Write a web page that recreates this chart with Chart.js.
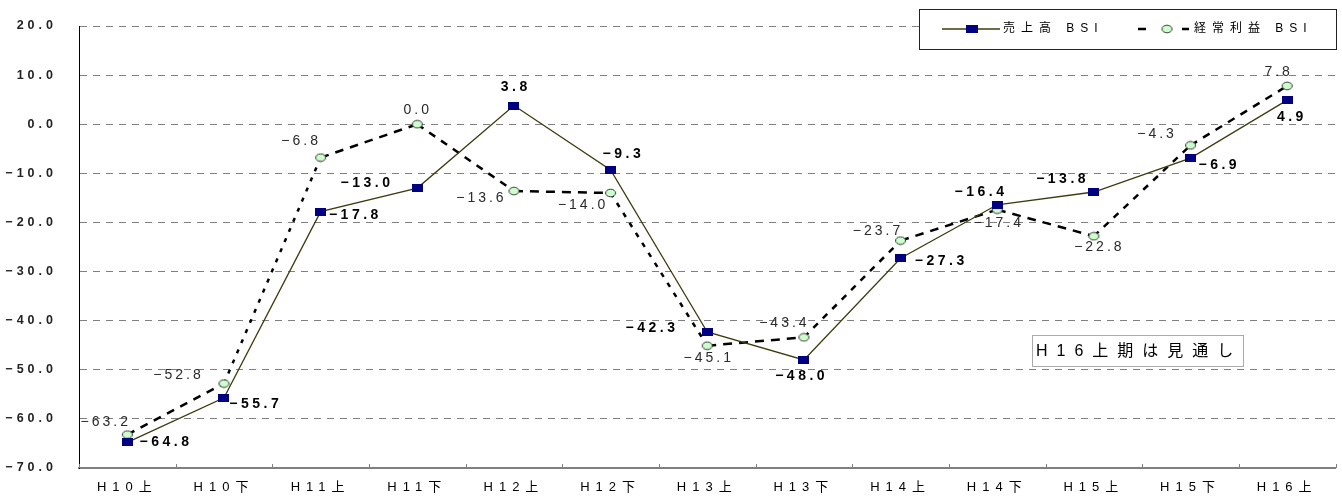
<!DOCTYPE html>
<html lang="ja">
<head>
<meta charset="utf-8">
<title>売上高・経常利益 BSI</title>
<script src="https://cdn.jsdelivr.net/npm/chart.js@4/dist/chart.umd.min.js"></script>
<style>
  html, body { margin: 0; padding: 0; background: #fff; }
  #wrap { position: relative; width: 1342px; height: 497px; }
</style>
</head>
<body>
<div id="wrap"><canvas id="bsi"></canvas></div>
<script>
// ---- data ----
const periods = ['H10上', 'H10下', 'H11上', 'H11下', 'H12上', 'H12下', 'H13上',
                 'H13下', 'H14上', 'H14下', 'H15上', 'H15下', 'H16上'];
const salesBSI  = [-64.8, -55.7, -17.8, -13.0, 3.8, -9.3, -42.3, -48.0, -27.3, -16.4, -13.8, -6.9, 4.9];
const profitBSI = [-63.2, -52.8, -6.8, 0.0, -13.6, -14.0, -45.1, -43.4, -23.7, -17.4, -22.8, -4.3, 7.8];
const yTicks = [20, 10, 0, -10, -20, -30, -40, -50, -60, -70];
const seriesNames = ['売上高 BSI', '経常利益 BSI'];
const noteText = 'H16上期は見通し';

// where each value label sits, relative to its point (label centre, px)
const salesLabelOffset  = [[37,0],[30,6],[33,4],[-52,-5],[0,-18],[11,-16],[-57,-4],[-4,16],[39,3],[-18,-13],[-33,-13],[27,7],[3,17]];
const profitLabelOffset = [[-23,-12],[-47,-8],[-21,-16],[-1,-14],[-34,7],[-29,12],[0,12],[-21,-14],[-24,-9],[0,13],[4,11],[-35,-11],[-10,-14]];

// ---- styling ----
const FONT = "'Liberation Sans', 'Noto Sans CJK JP', sans-serif";
const SALES_LINE = '#3c3c10';
const SALES_MARK = '#000080';
const PROFIT_FILL = '#ccffcc';

const fmt = v => (v < 0 ? '\u2212' : '') + Math.abs(v).toFixed(1);

function makeMarker(w, h, paint) {
  const c = document.createElement('canvas');
  c.width = w; c.height = h;
  paint(c.getContext('2d'), w, h);
  return c;
}
const squareMark = makeMarker(11, 8, (g, w, h) => { g.fillStyle = SALES_MARK; g.fillRect(0, 0, w, h); });
const ovalMark = makeMarker(13, 10, (g, w, h) => {
  g.beginPath();
  g.ellipse(w / 2, h / 2, 5, 3.8, 0, 0, Math.PI * 2);
  g.fillStyle = PROFIT_FILL; g.fill();
  g.lineWidth = 1; g.strokeStyle = '#333'; g.stroke();
});

// dashes look shorter on steep segments
function segDash(ctx) {
  const dx = Math.abs(ctx.p1.x - ctx.p0.x), dy = Math.abs(ctx.p1.y - ctx.p0.y);
  const len = Math.hypot(dx, dy) || 1;
  return [Math.max(4, 9 * dx / len), 7];
}

function spaced(ctx, text, x, y, ls, align) {
  ctx.letterSpacing = ls + 'px';
  const w = ctx.measureText(text).width - ls;
  let sx = x;
  if (align === 'center') sx = x - w / 2;
  else if (align === 'right') sx = x - w;
  ctx.textAlign = 'left';
  ctx.fillText(text, sx, y);
  ctx.letterSpacing = '0px';
}

// letter-spaced axis labels
const axisSpacing = {
  id: 'axisSpacing',
  beforeDraw(chart) {
    [['x', 6], ['y', 4]].forEach(([id, ls]) => {
      const s = chart.scales[id];
      if (s && !s.__spaced) {
        const orig = s.drawLabels;
        s.drawLabels = function (area) {
          const c = this.ctx;
          c.save();
          c.letterSpacing = ls + 'px';
          orig.call(this, area);
          c.restore();
        };
        s.__spaced = true;
      }
    });
  }
};

const valueLabels = {
  id: 'valueLabels',
  afterDatasetsDraw(chart) {
    const ctx = chart.ctx;
    ctx.save();
    ctx.textBaseline = 'middle';
    const m0 = chart.getDatasetMeta(0), m1 = chart.getDatasetMeta(1);
    ctx.font = 'bold 14px ' + FONT;
    ctx.fillStyle = '#000';
    salesBSI.forEach((v, i) => {
      const p = m0.data[i], o = salesLabelOffset[i];
      spaced(ctx, fmt(v), p.x + o[0], p.y + o[1], 3.5, 'center');
    });
    ctx.font = '14px ' + FONT;
    ctx.fillStyle = '#2a2a2a';
    profitBSI.forEach((v, i) => {
      const p = m1.data[i], o = profitLabelOffset[i];
      spaced(ctx, fmt(v), p.x + o[0], p.y + o[1], 3, 'center');
    });
    ctx.restore();
  }
};

const decorations = {
  id: 'decorations',
  afterDraw(chart) {
    const ctx = chart.ctx, area = chart.chartArea, xs = chart.scales.x;
    ctx.save();

    // small inward tick marks on the category axis
    const step = xs.getPixelForValue(1) - xs.getPixelForValue(0);
    const x0 = xs.getPixelForValue(0) - step / 2;
    ctx.strokeStyle = '#808080';
    ctx.lineWidth = 1;
    for (let i = 0; i <= periods.length; i++) {
      const x = Math.round(x0 + i * step) + 0.5;
      ctx.beginPath();
      ctx.moveTo(x, area.bottom);
      ctx.lineTo(x, area.bottom - 4);
      ctx.stroke();
    }

    // legend box
    const lx = 919, ly = 9, lw = 417, lh = 40, cy = ly + 20;
    ctx.fillStyle = '#fff';
    ctx.fillRect(lx, ly, lw, lh);
    ctx.strokeStyle = '#222';
    ctx.lineWidth = 1;
    ctx.strokeRect(lx + 0.5, ly + 0.5, lw, lh);

    ctx.strokeStyle = SALES_LINE;
    ctx.lineWidth = 1.3;
    ctx.beginPath(); ctx.moveTo(lx + 23, cy); ctx.lineTo(lx + 81, cy); ctx.stroke();
    ctx.fillStyle = SALES_MARK;
    ctx.fillRect(lx + 47, cy - 4, 12, 8);

    ctx.strokeStyle = '#000';
    ctx.lineWidth = 2.5;
    ctx.beginPath();
    ctx.moveTo(lx + 219, cy); ctx.lineTo(lx + 227, cy);
    ctx.moveTo(lx + 263, cy); ctx.lineTo(lx + 270, cy);
    ctx.stroke();
    ctx.drawImage(ovalMark, lx + 248 - 6.5, cy - 5);

    ctx.fillStyle = '#000';
    ctx.textBaseline = 'middle';
    ctx.font = '12px ' + FONT;
    spaced(ctx, seriesNames[0], lx + 84, cy, 6, 'left');
    spaced(ctx, seriesNames[1], lx + 275, cy, 6, 'left');

    // forecast note
    const nx = 1032, ny = 335, nw = 211, nh = 31;
    ctx.fillStyle = '#fff';
    ctx.fillRect(nx, ny, nw, nh);
    ctx.setLineDash([1, 1]);
    ctx.strokeStyle = '#555';
    ctx.lineWidth = 1;
    ctx.strokeRect(nx + 0.5, ny + 0.5, nw, nh);
    ctx.setLineDash([]);
    ctx.fillStyle = '#000';
    ctx.font = '16px ' + FONT;
    spaced(ctx, noteText, nx + 4, ny + nh / 2 + 1, 9, 'left');

    ctx.restore();
  }
};

new Chart(document.getElementById('bsi'), {
  type: 'line',
  data: {
    labels: periods,
    datasets: [
      {
        label: seriesNames[0],
        data: salesBSI,
        borderColor: SALES_LINE,
        borderWidth: 1.3,
        pointStyle: squareMark,
        tension: 0
      },
      {
        label: seriesNames[1],
        data: profitBSI,
        borderColor: '#000',
        borderWidth: 2.5,
        pointStyle: ovalMark,
        segment: { borderDash: segDash },
        tension: 0
      }
    ]
  },
  options: {
    responsive: true,
    maintainAspectRatio: false,
    animation: false,
    events: [],
    layout: { padding: { top: 26, right: 3, left: 0, bottom: 0 } },
    plugins: { legend: { display: false }, tooltip: { enabled: false } },
    scales: {
      x: {
        type: 'category',
        offset: true,
        grid: { display: false, drawTicks: false },
        border: { display: true, color: '#808080', width: 2 },
        ticks: {
          color: '#000',
          font: { family: FONT, size: 13 },
          padding: 12,
          maxRotation: 0,
          autoSkip: false
        },
        afterFit: s => { s.height = 29; s.paddingLeft = 0; s.paddingRight = 0; }
      },
      y: {
        min: -70,
        max: 20,
        afterBuildTicks: s => { s.ticks = yTicks.map(v => ({ value: v })); },
        grid: { color: '#808080', lineWidth: 1, drawTicks: false },
        border: { display: true, color: '#000', width: 1, dash: [7, 6] },
        ticks: {
          color: '#222',
          font: { family: FONT, size: 12.5, weight: 'bold' },
          padding: 22,
          callback: v => fmt(v)
        },
        afterFit: s => { s.width = 79; s.paddingTop = 0; s.paddingBottom = 0; }
      }
    }
  },
  plugins: [axisSpacing, valueLabels, decorations]
});
</script>
</body>
</html>
